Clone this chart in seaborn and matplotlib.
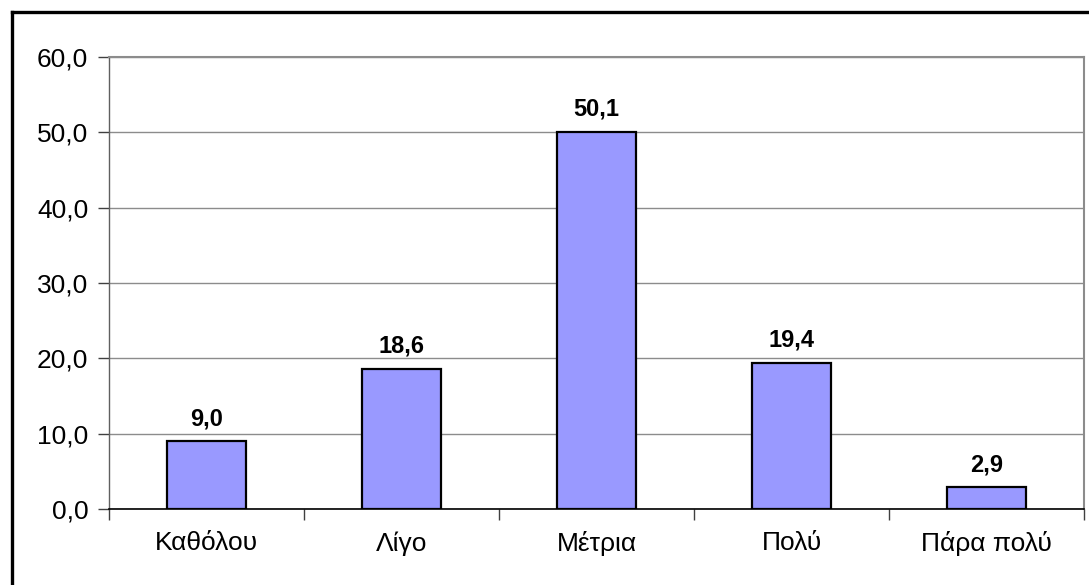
import matplotlib
matplotlib.use("Agg")
import matplotlib.pyplot as plt
import seaborn as sns
import numpy as np
import pandas as pd
from matplotlib.lines import Line2D
from matplotlib.ticker import FixedLocator, FuncFormatter

categories = ["Καθόλου", "Λίγο", "Μέτρια", "Πολύ", "Πάρα πολύ"]
values = [9.0, 18.6, 50.1, 19.4, 2.9]
y_ticks = [0, 10, 20, 30, 40, 50, 60]

sns.set_theme(style="white")
plt.rcParams["font.family"] = ["Liberation Sans", "DejaVu Sans"]
plt.rcParams["text.color"] = "black"
plt.rcParams["xtick.labelcolor"] = "black"
plt.rcParams["ytick.labelcolor"] = "black"

df = pd.DataFrame({"cat": categories, "val": values})

fig = plt.figure(figsize=(10.89, 5.85), dpi=100)
ax = fig.add_axes([109 / 1089, 1 - 509 / 585, (1084 - 109) / 1089, (509 - 57) / 585])

sns.barplot(data=df, x="cat", y="val", color="#9999FF", saturation=1,
            width=0.405, edgecolor="black", linewidth=1.6, ax=ax, zorder=3)

ax.set_ylim(0, 60)
ax.set_xlim(-0.5, len(categories) - 0.5)
ax.yaxis.set_major_locator(FixedLocator(y_ticks))
ax.yaxis.set_major_formatter(FuncFormatter(lambda v, p: f"{v:.1f}".replace(".", ",")))
ax.grid(axis="y", color="#8c8c8c", linewidth=1.0, zorder=0)
ax.set_axisbelow(True)

for spine in ["top", "right"]:
    ax.spines[spine].set_visible(True)
    ax.spines[spine].set_color("#8c8c8c")
    ax.spines[spine].set_linewidth(1.5)
ax.spines["left"].set_color("#606060")
ax.spines["left"].set_linewidth(1.0)
ax.spines["bottom"].set_color("black")
ax.spines["bottom"].set_linewidth(1.2)

ax.set_xlabel("")
ax.set_ylabel("")
ax.tick_params(axis="y", which="major", length=8, width=1.0, color="#404040",
               labelsize=19, pad=7, left=True, labelcolor="black")
ax.tick_params(axis="x", which="major", length=0, labelsize=19, pad=16,
               labelcolor="black")
ax.xaxis.set_minor_locator(FixedLocator(np.arange(-0.5, len(categories), 1.0)))
ax.tick_params(axis="x", which="minor", length=8, width=1.0, color="#404040",
               bottom=True, direction="out")

for i, v in enumerate(values):
    ax.annotate(f"{v:.1f}".replace(".", ","), (i, v), xytext=(0, 8),
                textcoords="offset points", ha="center", va="bottom",
                fontsize=17, fontweight="bold", color="black")

# outer frame (left and top edges)
fig.add_artist(Line2D([12 / 1089, 12 / 1089], [0, 1 - 12 / 585],
                      transform=fig.transFigure, color="black", linewidth=2.4,
                      solid_capstyle="projecting"))
fig.add_artist(Line2D([12 / 1089, 1], [1 - 12 / 585, 1 - 12 / 585],
                      transform=fig.transFigure, color="black", linewidth=2.4,
                      solid_capstyle="projecting"))

fig.savefig("out.png", dpi=100, facecolor="white")
